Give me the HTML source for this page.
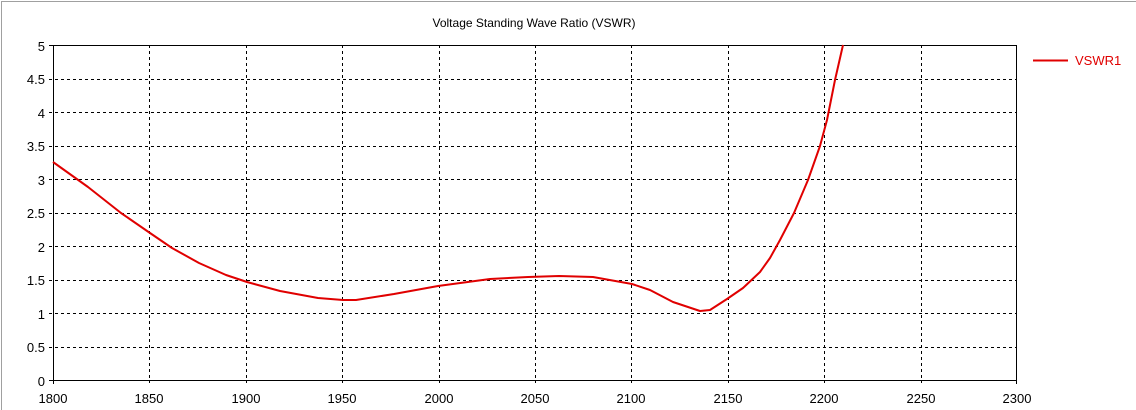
<!DOCTYPE html>
<html><head><style>
html,body{margin:0;padding:0;background:#fff;}
svg{display:block;font-family:"Liberation Sans",sans-serif;}
</style></head><body>
<svg width="1136" height="410" viewBox="0 0 1136 410">
<rect x="0" y="0" width="1136" height="410" fill="#fff"/>
<line x1="1.5" y1="1" x2="1.5" y2="410" stroke="#a0a0a0"/>
<line x1="1" y1="1.5" x2="1136" y2="1.5" stroke="#a0a0a0"/>
<text x="534" y="27" font-size="12" text-anchor="middle" fill="#000">Voltage Standing Wave Ratio (VSWR)</text>
<g stroke="#000" stroke-width="1" stroke-dasharray="3,3">
<line x1="149.5" y1="45" x2="149.5" y2="383"/>
<line x1="246.5" y1="45" x2="246.5" y2="383"/>
<line x1="342.5" y1="45" x2="342.5" y2="383"/>
<line x1="439.5" y1="45" x2="439.5" y2="383"/>
<line x1="535.5" y1="45" x2="535.5" y2="383"/>
<line x1="631.5" y1="45" x2="631.5" y2="383"/>
<line x1="728.5" y1="45" x2="728.5" y2="383"/>
<line x1="824.5" y1="45" x2="824.5" y2="383"/>
<line x1="921.5" y1="45" x2="921.5" y2="383"/>
<line x1="49" y1="79.5" x2="1016" y2="79.5"/>
<line x1="49" y1="112.5" x2="1016" y2="112.5"/>
<line x1="49" y1="146.5" x2="1016" y2="146.5"/>
<line x1="49" y1="179.5" x2="1016" y2="179.5"/>
<line x1="49" y1="213.5" x2="1016" y2="213.5"/>
<line x1="49" y1="246.5" x2="1016" y2="246.5"/>
<line x1="49" y1="280.5" x2="1016" y2="280.5"/>
<line x1="49" y1="313.5" x2="1016" y2="313.5"/>
<line x1="49" y1="347.5" x2="1016" y2="347.5"/>
</g>
<g stroke="#000" stroke-width="1" fill="none">
<rect x="53.5" y="45.5" width="963" height="335"/>
<line x1="49" y1="45.5" x2="53" y2="45.5"/>
<line x1="49" y1="380.5" x2="53" y2="380.5"/>
<line x1="53.5" y1="380" x2="53.5" y2="384"/>
<line x1="1016.5" y1="380" x2="1016.5" y2="384"/>
</g>
<g font-size="13" fill="#000" text-anchor="end">
<text x="45" y="51">5</text><text x="45" y="84">4.5</text><text x="45" y="118">4</text>
<text x="45" y="151">3.5</text><text x="45" y="185">3</text><text x="45" y="218">2.5</text>
<text x="45" y="252">2</text><text x="45" y="285">1.5</text><text x="45" y="319">1</text>
<text x="45" y="352">0.5</text><text x="45" y="386">0</text>
</g>
<g font-size="13" fill="#000" text-anchor="middle">
<text x="53" y="403">1800</text><text x="149" y="403">1850</text><text x="246" y="403">1900</text>
<text x="342" y="403">1950</text><text x="439" y="403">2000</text><text x="535" y="403">2050</text>
<text x="631" y="403">2100</text><text x="728" y="403">2150</text><text x="824" y="403">2200</text>
<text x="921" y="403">2250</text><text x="1017" y="403">2300</text>
</g>
<polyline fill="none" stroke="#e00000" stroke-width="2" stroke-linejoin="round" points="53,162 88,187 121,213 150,233 172,248 199,263 226,275 247,282 280,291 318,298 343,300 356,300 394,294 438,286 490,279 528,277 559,276 593,277 632,284 650,290 673,302 700,311 710,310 727,299 743,288 760,272 770,258 780,240 794,213 808,180 820,146 827,120 835,80 843,45"/>
<line x1="1033" y1="60.5" x2="1068" y2="60.5" stroke="#e00000" stroke-width="2"/>
<text x="1075" y="65" font-size="13" fill="#e00000">VSWR1</text>
</svg>
</body></html>
